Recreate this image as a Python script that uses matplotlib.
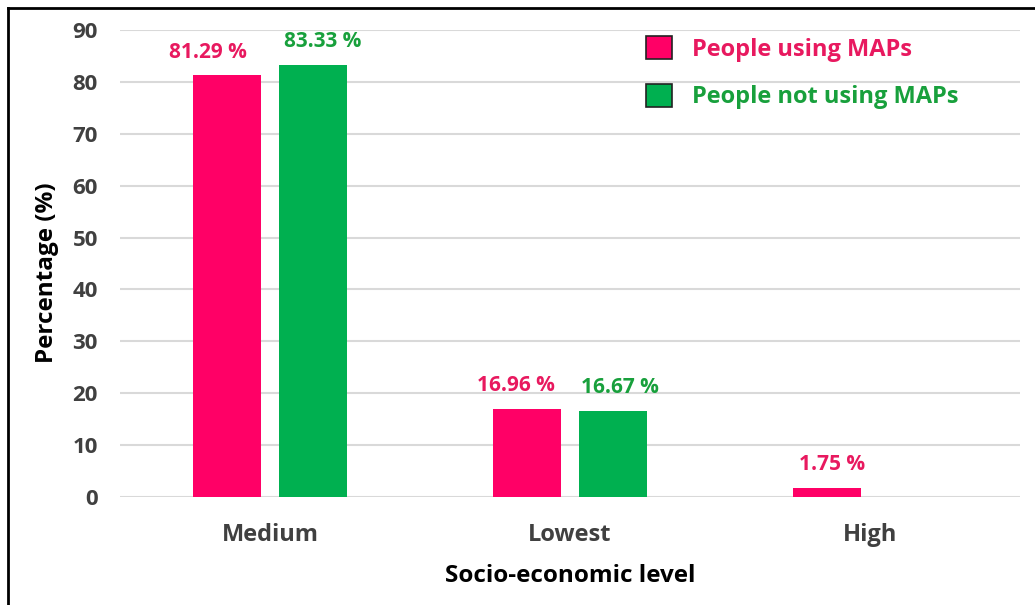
import matplotlib
matplotlib.use("Agg")
import numpy as np
import matplotlib.pyplot as plt
import matplotlib.patches as mpatches
from matplotlib.lines import Line2D

# data
categories = ["Medium", "Lowest", "High"]
using_maps = [81.29, 16.96, 1.75]
not_using_maps = [83.33, 16.67, 0.0]
series_names = ["People using MAPs", "People not using MAPs"]

pink = "#FF0066"
green = "#00B050"
pink_txt = "#E8195F"
green_txt = "#18A03C"

plt.rcParams['font.family'] = ['Open Sans', 'DejaVu Sans']

fig = plt.figure(figsize=(10.35, 6.05), dpi=100)
ax = fig.add_axes([120 / 1035, 1 - 497 / 605, 900 / 1035, 467 / 605])

x = np.arange(len(categories))
w = 0.227
off = 0.142
ax.bar(x - off, using_maps, width=w, color=pink, zorder=3)
ax.bar(x + off, not_using_maps, width=w, color=green, zorder=3)

# value labels (skip the empty bar); nudged sideways a bit like the original
pink_nudge = [-14, -8, 3]
green_nudge = [7, 5, 0]
for xi, v, dx in zip(x, using_maps, pink_nudge):
    if v > 0:
        ax.annotate(f"{v:.2f} %", (xi - off, v), xytext=(dx, 9), textcoords="offset points",
                    ha="center", va="bottom", color=pink_txt, fontsize=15, fontweight="bold")
for xi, v, dx in zip(x, not_using_maps, green_nudge):
    if v > 0:
        ax.annotate(f"{v:.2f} %", (xi + off, v), xytext=(dx, 9), textcoords="offset points",
                    ha="center", va="bottom", color=green_txt, fontsize=15, fontweight="bold")

ax.set_xlim(-0.5, len(categories) - 0.5)
ax.set_ylim(0, 90)
ax.set_yticks(range(0, 91, 10))
ax.set_xticks(x)
ax.set_xticklabels(categories)
ax.yaxis.grid(True, color="#D9D9D9", linewidth=1.5, zorder=0)
ax.set_axisbelow(True)
for s in ax.spines.values():
    s.set_visible(False)
ax.tick_params(axis="both", length=0, labelcolor="#404040")
ax.tick_params(axis="y", pad=16, labelsize=16)
ax.tick_params(axis="x", pad=19, labelsize=17)
for lbl in ax.get_xticklabels() + ax.get_yticklabels():
    lbl.set_fontweight("bold")

fig.text(47 / 1035, 1 - 273 / 605, "Percentage (%)", rotation=90, ha="center", va="center",
         fontsize=17.5, fontweight="bold", color="black")
fig.text(570 / 1035, 1 - 576 / 605, "Socio-economic level", ha="center", va="center",
         fontsize=17.5, fontweight="bold", color="black")

# legend
handles = [mpatches.Patch(facecolor=pink, edgecolor="#222222", linewidth=1.2),
           mpatches.Patch(facecolor=green, edgecolor="#222222", linewidth=1.2)]
leg = fig.legend(handles, series_names, loc="upper left", bbox_to_anchor=(625 / 1035, 1 - 15 / 605),
                 frameon=False, prop={"size": 17, "weight": "bold"}, handlelength=1.1,
                 handleheight=1.1, handletextpad=0.85, labelspacing=0.95,
                 labelcolor=[pink_txt, green_txt])

# frame lines (top and left)
fig.add_artist(Line2D([8 / 1035, 1], [1 - 8 / 605, 1 - 8 / 605], color="black", linewidth=2,
                      transform=fig.transFigure))
fig.add_artist(Line2D([8 / 1035, 8 / 1035], [0, 1 - 8 / 605], color="black", linewidth=2,
                      transform=fig.transFigure))

fig.savefig("out.png", dpi=100)
